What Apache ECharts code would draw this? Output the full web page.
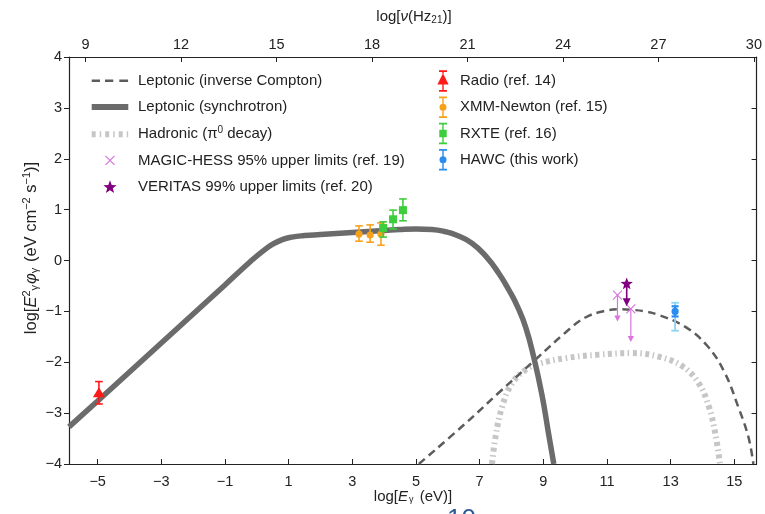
<!DOCTYPE html>
<html>
<head>
<meta charset="utf-8">
<script src="https://cdn.jsdelivr.net/npm/echarts@6/dist/echarts.min.js"></script>
<style>
  html, body { margin: 0; padding: 0; background: #fff; }
  #chart { width: 765px; height: 514px; }
</style>
</head>
<body>
<div id="chart"></div>
<script>
// Offset between log10(E / eV) and log10(nu / Hz): log10(e / h)
const NU_OFFSET = 14.383;
const X_MIN = -5.9;
const X_MAX = 15.7;

const energyTicks = [-5, -3, -1, 1, 3, 5, 7, 9, 11, 13, 15];
const freqTicks = [9, 12, 15, 18, 21, 24, 27, 30];

// Model curves: [log E (eV), log E^2 phi]
const synchrotron = [
  [-5.9, -3.27], [-5, -2.76], [-3, -1.62], [-1, -0.48], [-0.2, -0.02], [0.2, 0.19],
  [0.5, 0.32], [0.8, 0.41], [1.1, 0.46], [1.5, 0.49], [2, 0.51], [3, 0.55],
  [4, 0.59], [4.5, 0.61], [5, 0.62], [5.5, 0.61], [5.9, 0.57], [6.3, 0.49],
  [6.76, 0.34], [7.2, 0.08], [7.6, -0.25], [7.92, -0.58], [8.2, -0.92],
  [8.45, -1.32], [8.7, -1.9], [8.96, -2.65], [9.17, -3.42], [9.33, -4.0]
];
const inverseCompton = [
  [5.09, -4.0], [6.56, -3.2], [7.6, -2.6], [8.75, -1.95], [9.69, -1.42],
  [10.32, -1.12], [10.94, -0.99], [11.4, -0.96], [11.78, -0.97], [12.2, -1.0],
  [12.62, -1.07], [13.45, -1.3], [14.17, -1.69], [14.71, -2.22], [15.12, -2.87],
  [15.44, -3.46], [15.6, -4.0]
];
const hadronic = [
  [7.39, -4.0], [7.5, -3.46], [7.71, -2.87], [8.02, -2.41], [8.44, -2.15],
  [8.86, -2.03], [9.69, -1.92], [10.74, -1.85], [11.78, -1.82], [12.62, -1.89],
  [13.35, -2.07], [13.88, -2.41], [14.2, -2.87], [14.4, -3.39], [14.55, -4.0]
];

// Measurements: [log E, value, lower, upper]
const radio = [[-4.96, -2.6, -2.82, -2.38]];
const xmmNewton = [[3.21, 0.52, 0.38, 0.68], [3.56, 0.50, 0.36, 0.70], [3.90, 0.52, 0.30, 0.74]];
const rxte = [[3.97, 0.64, 0.46, 0.76], [4.28, 0.81, 0.62, 0.99], [4.59, 0.99, 0.78, 1.21]];
// [log E, value, total lower, total upper, stat lower, stat upper]
const hawc = [[13.14, -1.0, -1.38, -0.83, -1.1, -0.9]];

// Upper limits: [log E, limit, arrow end]
const magicHess = [[11.33, -0.68, -1.2], [11.75, -0.95, -1.6]];
const veritas = [[11.62, -0.46, -0.9]];

const FONT = "'Liberation Sans', Arial, Helvetica, sans-serif";
const INK = '#222';

const C = {
  ic: '#5c5c5c', syn: '#6b6b6b', had: '#c6c6c6',
  radio: '#ff1a1a', xmm: '#f7a11a', rxte: '#3dcd3d',
  hawcDot: '#2a8cf0', hawcBar: '#8dd3f2',
  magic: '#d975dc', veritas: '#800080'
};

// ---- small path helpers (icons and markers) ----
function rectP(x, y, w, h) { return `M${x},${y}h${w}v${h}h${-w}z`; }
function anchors(w, h) { return `M0,0h0.01v0.01h-0.01z M${w - 0.01},${h - 0.01}h0.01v0.01h-0.01z `; }
function barP(x1, y1, x2, y2, t) {
  const dx = x2 - x1, dy = y2 - y1, L = Math.hypot(dx, dy);
  const nx = -dy / L * t / 2, ny = dx / L * t / 2;
  return `M${x1 + nx},${y1 + ny}L${x2 + nx},${y2 + ny}L${x2 - nx},${y2 - ny}L${x1 - nx},${y1 - ny}z`;
}
function circleP(cx, cy, r) {
  return `M${cx - r},${cy}a${r},${r} 0 1,1 ${2 * r},0a${r},${r} 0 1,1 ${-2 * r},0z`;
}
function starPts(cx, cy, R) {
  const pts = [];
  for (let i = 0; i < 10; i++) {
    const r = i % 2 === 0 ? R : R * 0.42;
    const a = -Math.PI / 2 + i * Math.PI / 5;
    pts.push([cx + r * Math.cos(a), cy + r * Math.sin(a)]);
  }
  return pts;
}
function starP(cx, cy, R) {
  const p = starPts(cx, cy, R);
  return 'M' + p.map(q => q[0].toFixed(2) + ',' + q[1].toFixed(2)).join('L') + 'z';
}

// Left legend icons (46 x 16), line samples centred at x = 23
const iconIC = 'path://' + anchors(46, 16) + rectP(4.7, 6.8, 8.3, 2.5) + rectP(18, 6.8, 8.3, 2.5) + rectP(32.3, 6.8, 8.8, 2.5);
const iconSyn = 'path://' + anchors(46, 16) + rectP(4.7, 5, 36.6, 6);
const iconHad = 'path://' + anchors(46, 16) + rectP(4.7, 5, 4, 6) + rectP(12.7, 5, 1.5, 6) + rectP(18.2, 5, 4, 6) +
  rectP(26.2, 5, 1.5, 6) + rectP(31.7, 5, 4, 6) + rectP(39.7, 5, 1.5, 6);
const iconMagic = 'path://' + anchors(46, 16) + barP(18.5, 3.5, 27.5, 12.5, 1.2) + barP(18.5, 12.5, 27.5, 3.5, 1.2);
const iconVeritas = 'path://' + anchors(46, 16) + starP(23, 8.6, 7);

// Right legend icons (24 x 22): error bar split around the marker
function errIcon(marker, gapTop, gapBottom) {
  return 'path://' + anchors(24, 22) + rectP(8, 0.3, 8, 1.6) + rectP(8, 20.1, 8, 1.6) +
    rectP(11.3, 0.3, 1.4, gapTop - 0.3) + rectP(11.3, gapBottom, 1.4, 21.7 - gapBottom) + marker;
}
const iconRadio = errIcon('M12,3.3L6.4,14.4L17.6,14.4z', 4, 14.4);
const iconXmm = errIcon(circleP(12, 11, 3.5), 7.6, 14.4);
const iconRxte = errIcon(rectP(8.3, 7.3, 7.4, 7.4), 7.3, 14.7);
const iconHawc = errIcon(circleP(12, 11, 3.5), 7.6, 14.4);

// ---- custom renderers ----
function vbar(x, y1, y2, color, w, cap) {
  return [
    { type: 'line', shape: { x1: x, y1: y1, x2: x, y2: y2 }, style: { stroke: color, lineWidth: w } },
    { type: 'line', shape: { x1: x - cap, y1: y1, x2: x + cap, y2: y1 }, style: { stroke: color, lineWidth: w } },
    { type: 'line', shape: { x1: x - cap, y1: y2, x2: x + cap, y2: y2 }, style: { stroke: color, lineWidth: w } }
  ];
}

function errorSeries(name, data, color, markerFn) {
  return {
    type: 'custom', name: name, data: data,
    encode: { x: 0, y: [1, 2, 3] },
    itemStyle: { color: color },
    z: 5,
    renderItem: function (params, api) {
      const p = api.coord([api.value(0), api.value(1)]);
      const lo = api.coord([api.value(0), api.value(2)]);
      const hi = api.coord([api.value(0), api.value(3)]);
      const children = vbar(p[0], lo[1], hi[1], color, 1.6, 3.8);
      children.push(markerFn(p[0], p[1], color));
      return { type: 'group', children: children };
    }
  };
}

function arrowDown(x, y1, y2, color, w, hw, hh) {
  return [
    { type: 'line', shape: { x1: x, y1: y1, x2: x, y2: y2 - hh + 1 }, style: { stroke: color, lineWidth: w } },
    { type: 'polygon', shape: { points: [[x - hw, y2 - hh], [x + hw, y2 - hh], [x, y2]] }, style: { fill: color } }
  ];
}

const minusFmt = v => String(v).replace('-', '\u2212');

const option = {
  animation: false,
  backgroundColor: '#fff',
  textStyle: { fontFamily: FONT },
  grid: { left: 69, right: 7, top: 57, bottom: 50, containLabel: false },
  xAxis: [
    {
      type: 'value', position: 'bottom', min: X_MIN, max: X_MAX,
      axisLine: { onZero: false, lineStyle: { color: INK, width: 1.2 } },
      axisTick: { inside: true, length: 5, customValues: energyTicks, lineStyle: { color: INK } },
      axisLabel: { customValues: energyTicks, margin: 10, fontSize: 14.5, color: INK, fontFamily: FONT, formatter: minusFmt },
      splitLine: { show: false }
    },
    {
      type: 'value', position: 'top', min: X_MIN + NU_OFFSET, max: X_MAX + NU_OFFSET,
      axisLine: { onZero: false, lineStyle: { color: INK, width: 1.2 } },
      axisTick: { inside: true, length: 5, customValues: freqTicks, lineStyle: { color: INK } },
      axisLabel: { customValues: freqTicks, margin: 5, fontSize: 14.5, color: INK, fontFamily: FONT },
      splitLine: { show: false }
    }
  ],
  yAxis: [
    {
      type: 'value', position: 'left', min: -4, max: 4, interval: 1,
      axisLine: { show: true, onZero: false, lineStyle: { color: INK, width: 1.2 } },
      axisTick: { show: true, inside: false, length: 5, lineStyle: { color: INK } },
      axisLabel: { margin: 7, fontSize: 14.5, color: INK, fontFamily: FONT, formatter: minusFmt },
      splitLine: { show: false }
    },
    {
      type: 'value', position: 'right', min: -4, max: 4, interval: 1,
      axisLine: { show: true, onZero: false, lineStyle: { color: INK, width: 1.2 } },
      axisTick: { show: true, inside: true, length: 5, lineStyle: { color: INK } },
      axisLabel: { show: false },
      splitLine: { show: false }
    }
  ],
  legend: [
    {
      orient: 'vertical', left: 87, top: 72.7, padding: 0,
      itemWidth: 46, itemHeight: 16, itemGap: 10.25,
      selectedMode: false,
      textStyle: { fontSize: 15, color: INK, fontFamily: FONT,
        rich: { sup: { fontSize: 10, color: INK, fontFamily: FONT, padding: [0, 0, 8, 0] },
                t: { fontSize: 15, color: INK, fontFamily: FONT } } },
      formatter: function (name) {
        if (name.indexOf('\u03c00') >= 0) {
          const parts = name.split('\u03c00');
          return '{t|' + parts[0] + '\u03c0}{sup|0}{t|' + parts[1] + '}';
        }
        return name;
      },
      data: [
        { name: 'Leptonic (inverse Compton)', icon: iconIC, itemStyle: { color: C.ic, borderWidth: 0 } },
        { name: 'Leptonic (synchrotron)', icon: iconSyn, itemStyle: { color: C.syn, borderWidth: 0 } },
        { name: 'Hadronic (\u03c00 decay)', icon: iconHad, itemStyle: { color: C.had, borderWidth: 0 } },
        { name: 'MAGIC-HESS 95% upper limits (ref. 19)', icon: iconMagic, itemStyle: { color: C.magic, borderWidth: 0 } },
        { name: 'VERITAS 99% upper limits (ref. 20)', icon: iconVeritas, itemStyle: { color: C.veritas, borderWidth: 0 } }
      ]
    },
    {
      orient: 'vertical', left: 431, top: 70, padding: 0,
      itemWidth: 24, itemHeight: 22, itemGap: 4.25,
      selectedMode: false,
      textStyle: { fontSize: 15, color: INK, fontFamily: FONT },
      data: [
        { name: 'Radio (ref. 14)', icon: iconRadio, itemStyle: { color: C.radio, borderWidth: 0 } },
        { name: 'XMM-Newton (ref. 15)', icon: iconXmm, itemStyle: { color: C.xmm, borderWidth: 0 } },
        { name: 'RXTE (ref. 16)', icon: iconRxte, itemStyle: { color: C.rxte, borderWidth: 0 } },
        { name: 'HAWC (this work)', icon: iconHawc, itemStyle: { color: C.hawcDot, borderWidth: 0 } }
      ]
    }
  ],
  graphic: [
    {
      type: 'text', x: 414, y: 17, z: 10,
      style: {
        text: '{t|log[}{i|\u03bd}{t|(Hz}{s|21}{t|)]}',
        align: 'center', verticalAlign: 'middle',
        rich: {
          t: { fontSize: 15, fontFamily: FONT, fill: INK },
          i: { fontSize: 15, fontFamily: FONT, fontStyle: 'italic', fill: INK },
          s: { fontSize: 10, fontFamily: FONT, fill: INK, padding: [7, 0, 0, 0] }
        }
      }
    },
    {
      type: 'text', x: 413, y: 497, z: 10,
      style: {
        text: '{t|log[}{i|E}{s|\u03b3}{t| (eV)]}',
        align: 'center', verticalAlign: 'middle',
        rich: {
          t: { fontSize: 15, fontFamily: FONT, fill: INK },
          i: { fontSize: 15, fontFamily: FONT, fontStyle: 'italic', fill: INK },
          s: { fontSize: 9, fontFamily: FONT, fill: INK, padding: [6, 2, 0, 1] }
        }
      }
    },
    {
      type: 'text', x: 31, y: 248, rotation: Math.PI / 2, z: 10,
      style: {
        text: '{t|log[}{i|E}{p|2}{s|\u03b3}{i|\u03c6}{s|\u03b3}{t| (eV cm}{p|\u22122}{t| s}{p|\u22121}{t|)]}',
        align: 'center', verticalAlign: 'middle',
        rich: {
          t: { fontSize: 16.5, fontFamily: FONT, fill: INK },
          i: { fontSize: 16.5, fontFamily: FONT, fontStyle: 'italic', fill: INK },
          s: { fontSize: 11, fontFamily: FONT, fill: INK, padding: [8, 1, 0, 0] },
          p: { fontSize: 11, fontFamily: FONT, fill: INK, padding: [0, 0, 8, 0] }
        }
      }
    },
    {
      type: 'text', x: 447, y: 507, z: 10,
      style: { text: '10', fontSize: 26, fontFamily: FONT, fill: '#2b5a96', verticalAlign: 'top' }
    }
  ],
  series: [
    {
      type: 'line', name: 'Hadronic (\u03c00 decay)', data: hadronic, symbol: 'none', smooth: 0.4,
      lineStyle: { color: C.had, width: 6, type: [4, 3.5, 1.5, 3.5] }, itemStyle: { color: C.had }, z: 2
    },
    {
      type: 'line', name: 'Leptonic (inverse Compton)', data: inverseCompton, symbol: 'none', smooth: 0.4,
      lineStyle: { color: C.ic, width: 2.5, type: [8, 5] }, itemStyle: { color: C.ic }, z: 3
    },
    {
      type: 'line', name: 'Leptonic (synchrotron)', data: synchrotron, symbol: 'none', smooth: 0.5,
      lineStyle: { color: C.syn, width: 5.5 }, itemStyle: { color: C.syn }, z: 4
    },
    errorSeries('Radio (ref. 14)', radio, C.radio, (x, y, c) => ({
      type: 'polygon', shape: { points: [[x, y - 5.5], [x - 6, y + 4.5], [x + 6, y + 4.5]] }, style: { fill: c }
    })),
    errorSeries('XMM-Newton (ref. 15)', xmmNewton, C.xmm, (x, y, c) => ({
      type: 'circle', shape: { cx: x, cy: y, r: 3.6 }, style: { fill: c }
    })),
    errorSeries('RXTE (ref. 16)', rxte, C.rxte, (x, y, c) => ({
      type: 'rect', shape: { x: x - 4, y: y - 4, width: 8, height: 8 }, style: { fill: c }
    })),
    {
      type: 'custom', name: 'HAWC (this work)', data: hawc,
      encode: { x: 0, y: [1, 2, 3] }, itemStyle: { color: C.hawcDot }, z: 5,
      renderItem: function (params, api) {
        const e = api.value(0);
        const p = api.coord([e, api.value(1)]);
        const lo = api.coord([e, api.value(2)]);
        const hi = api.coord([e, api.value(3)]);
        const slo = api.coord([e, api.value(4)]);
        const shi = api.coord([e, api.value(5)]);
        const children = vbar(p[0], lo[1], hi[1], C.hawcBar, 1.8, 3.8)
          .concat(vbar(p[0], slo[1], shi[1], C.hawcDot, 2.2, 3.5));
        children.push({ type: 'circle', shape: { cx: p[0], cy: p[1], r: 3.6 }, style: { fill: C.hawcDot } });
        return { type: 'group', children: children };
      }
    },
    {
      type: 'custom', name: 'MAGIC-HESS 95% upper limits (ref. 19)', data: magicHess,
      encode: { x: 0, y: [1, 2] }, itemStyle: { color: C.magic }, z: 6,
      renderItem: function (params, api) {
        const e = api.value(0);
        const p = api.coord([e, api.value(1)]);
        const q = api.coord([e, api.value(2)]);
        const s = 4.5, c = C.magic;
        const children = [
          { type: 'line', shape: { x1: p[0] - s, y1: p[1] - s, x2: p[0] + s, y2: p[1] + s }, style: { stroke: c, lineWidth: 1.2 } },
          { type: 'line', shape: { x1: p[0] - s, y1: p[1] + s, x2: p[0] + s, y2: p[1] - s }, style: { stroke: c, lineWidth: 1.2 } }
        ].concat(arrowDown(p[0], p[1], q[1], c, 1.2, 3.2, 6));
        return { type: 'group', children: children };
      }
    },
    {
      type: 'custom', name: 'VERITAS 99% upper limits (ref. 20)', data: veritas,
      encode: { x: 0, y: [1, 2] }, itemStyle: { color: C.veritas }, z: 7,
      renderItem: function (params, api) {
        const e = api.value(0);
        const p = api.coord([e, api.value(1)]);
        const q = api.coord([e, api.value(2)]);
        const c = C.veritas;
        const children = [
          { type: 'polygon', shape: { points: starPts(p[0], p[1], 6.5) }, style: { fill: c } }
        ].concat(arrowDown(p[0], p[1], q[1], c, 1.6, 4, 8));
        return { type: 'group', children: children };
      }
    }
  ]
};

const chart = echarts.init(document.getElementById('chart'), null, { renderer: 'canvas' });
chart.setOption(option);
</script>
</body>
</html>
